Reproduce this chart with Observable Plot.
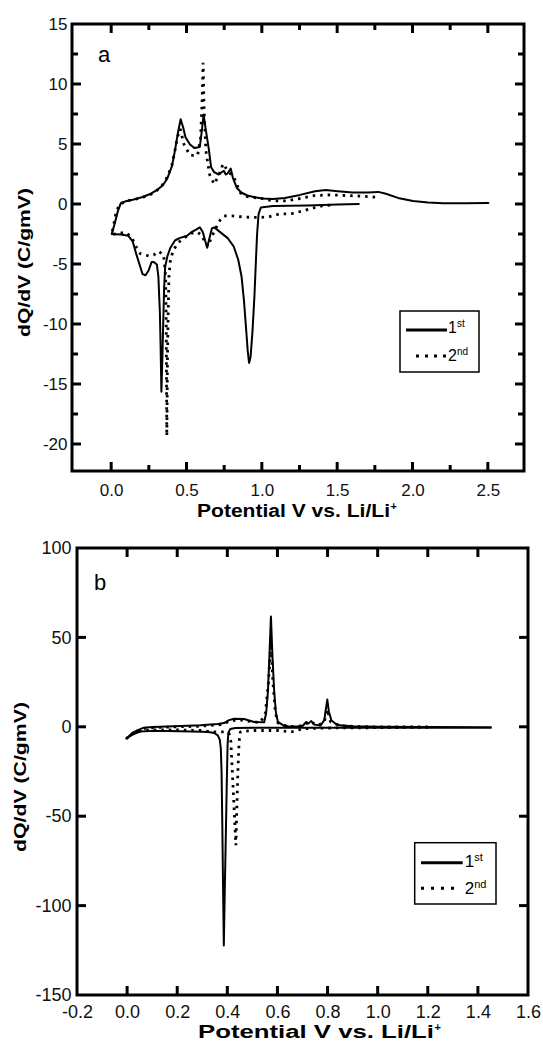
<!DOCTYPE html>
<html><head><meta charset="utf-8">
<script src="https://cdn.jsdelivr.net/npm/d3@7"></script>
<script src="https://cdn.jsdelivr.net/npm/@observablehq/plot@0.6"></script>
<style>
html,body{margin:0;padding:0;background:#fff;}
.panel{position:relative;width:543px;}
.panel svg{display:block;}
.panel svg.overlay{position:absolute;left:0;top:0;pointer-events:none;overflow:visible;}
</style></head>
<body><div id="chart"></div>
<script>
// ---------- Panel a data: [potential V, dQ/dV] ----------
const aCycle1 = [
  [1.64,0.05],[1.5,0.0],[1.3,-0.08],[1.07,-0.12],[0.99,-0.25],[0.975,-0.8],[0.965,-2.5],[0.958,-4.5],
  [0.948,-7.5],[0.935,-10.5],[0.922,-12.7],[0.912,-13.2],[0.903,-12.2],[0.893,-10.5],[0.878,-8],
  [0.862,-6],[0.84,-4.6],[0.81,-3.5],[0.77,-2.8],[0.72,-2.3],[0.68,-1.9],[0.665,-2.0],[0.645,-3.0],
  [0.634,-3.6],[0.62,-3.0],[0.605,-2.3],[0.585,-1.9],[0.56,-2.1],[0.53,-2.3],[0.5,-2.6],[0.45,-2.8],
  [0.42,-3.0],[0.39,-3.6],[0.37,-4.3],[0.355,-5.2],[0.348,-7],[0.342,-10],[0.336,-13],[0.33,-15.6],
  [0.325,-12],[0.32,-9],[0.31,-6],[0.3,-5.0],[0.28,-4.8],[0.265,-4.8],[0.245,-5.5],[0.225,-5.9],
  [0.205,-5.8],[0.185,-5.0],[0.165,-4.2],[0.14,-3.1],[0.11,-2.6],[0.06,-2.5],[0.0,-2.45],
  [0.02,-1.6],[0.04,-0.6],[0.06,0.1],[0.1,0.3],[0.14,0.4],[0.2,0.6],[0.26,0.9],[0.3,1.2],[0.34,1.6],
  [0.37,2.2],[0.4,3.2],[0.42,4.5],[0.44,6.0],[0.458,7.1],[0.475,6.4],[0.49,5.6],[0.52,5.0],[0.55,4.7],
  [0.585,4.8],[0.597,6.0],[0.61,7.5],[0.625,6.2],[0.645,4.6],[0.66,3.1],[0.68,2.7],[0.71,2.5],
  [0.73,2.7],[0.745,2.8],[0.757,2.5],[0.77,2.6],[0.79,3.0],[0.805,2.2],[0.83,1.4],[0.86,1.0],
  [0.9,0.75],[0.95,0.6],[1.0,0.5],[1.07,0.45],[1.15,0.55],[1.25,0.8],[1.35,1.1],[1.42,1.2],
  [1.5,1.1],[1.6,1.0],[1.7,1.0],[1.77,1.05],[1.82,0.9],[1.9,0.55],[2.0,0.3],[2.1,0.17],[2.2,0.1],
  [2.35,0.1],[2.5,0.12]
];
const aCycle2 = [
  [1.45,-0.05],[1.4,-0.1],[1.35,-0.25],[1.28,-0.5],[1.2,-0.75],[1.11,-0.8],[1.04,-1.05],[0.95,-1.08],
  [0.89,-1.05],[0.84,-1.0],[0.8,-0.95],[0.745,-0.95],[0.72,-1.3],[0.69,-2.0],[0.66,-2.8],[0.64,-3.5],
  [0.62,-3.2],[0.6,-2.6],[0.57,-2.3],[0.53,-2.4],[0.48,-2.8],[0.44,-3.2],[0.41,-3.8],[0.39,-4.6],
  [0.38,-6],[0.375,-9],[0.37,-13],[0.368,-16.5],[0.366,-19.3],[0.364,-15],[0.362,-10],[0.358,-6],
  [0.345,-4.2],[0.31,-3.9],[0.28,-4.2],[0.25,-4.3],[0.22,-4.2],[0.19,-4.1],[0.165,-3.6],[0.148,-3.1],
  [0.12,-2.6],[0.09,-2.3],[0.05,-2.4],[0.0,-2.5],
  [0.015,-1.6],[0.027,-0.8],[0.05,0.0],[0.1,0.3],[0.16,0.45],[0.22,0.65],[0.28,0.95],[0.33,1.5],
  [0.37,2.3],[0.4,3.3],[0.42,4.5],[0.436,5.6],[0.455,6.3],[0.48,5.0],[0.52,4.1],[0.57,4.1],
  [0.59,5.5],[0.6,8.5],[0.607,11.8],[0.613,8],[0.625,4.5],[0.65,2.5],[0.68,1.7],[0.71,2.4],
  [0.74,3.4],[0.77,2.8],[0.81,2.3],[0.855,0.95],[0.9,0.65],[1.0,0.5],[1.07,0.3],[1.16,0.3],
  [1.25,0.5],[1.35,0.75],[1.45,0.8],[1.55,0.75],[1.65,0.7],[1.76,0.6]
];
// ---------- Panel b data ----------
const bCycle1 = [
  [1.45,-0.2],[1.2,-0.2],[0.9,-0.3],[0.7,-0.3],[0.5,-0.3],[0.43,-0.4],[0.41,-1.0],[0.402,-3],
  [0.399,-10],[0.396,-30],[0.392,-60],[0.388,-90],[0.384,-122],[0.381,-90],[0.378,-55],[0.375,-25],
  [0.372,-12],[0.368,-7],[0.36,-4.5],[0.345,-3.2],[0.33,-2.8],[0.3,-2.5],[0.25,-2.3],[0.16,-2.0],
  [0.1,-2.0],[0.05,-2.4],[0.02,-4.0],[-0.005,-6.3],
  [0.02,-3.0],[0.05,-1.0],[0.065,-0.2],[0.1,0.2],[0.16,0.5],[0.29,1.1],[0.36,1.8],[0.385,2.4],
  [0.405,4.0],[0.425,4.8],[0.465,4.6],[0.505,3.0],[0.545,2.8],[0.553,8],[0.56,20],[0.566,40],
  [0.572,62],[0.578,40],[0.585,20],[0.592,8],[0.6,3.0],[0.62,1.2],[0.64,0.6],[0.68,0.5],[0.7,1.0],
  [0.713,3.0],[0.72,2.0],[0.733,3.5],[0.745,1.5],[0.77,1.0],[0.785,4],[0.79,9],[0.797,15.5],
  [0.803,9],[0.813,3.9],[0.83,2.0],[0.847,1.1],[0.9,0.6],[1.0,0.3],[1.2,0.1],[1.45,0.0]
];
const bCycle2 = [
  [1.2,0.0],[1.0,-0.2],[0.8,-0.4],[0.7,-0.8],[0.655,-2.5],[0.6,-1.8],[0.5,-1.8],[0.45,-2.5],
  [0.445,-8],[0.44,-25],[0.436,-45],[0.432,-66],[0.425,-45],[0.418,-25],[0.412,-8],[0.405,-3.5],
  [0.39,-2.5],[0.34,-2.6],[0.3,-1.8],[0.2,-1.5],[0.1,-1.5],[0.05,-2.0],[0.02,-3.5],[-0.005,-6.3],
  [0.03,-2.5],[0.07,-0.5],[0.15,0.1],[0.29,0.6],[0.37,1.5],[0.41,3.5],[0.44,4.3],[0.48,3.5],
  [0.53,2.6],[0.55,8],[0.562,25],[0.572,47],[0.58,25],[0.59,8],[0.6,2.5],[0.64,0.3],[0.7,0.8],
  [0.715,2.5],[0.73,3.0],[0.76,1.0],[0.785,3],[0.797,10],[0.81,3],[0.85,0.8],[0.95,0.3],[1.2,0.2]
];
// ---------- ticks & labels ----------
const aXTicks = [0, 0.5, 1.0, 1.5, 2.0, 2.5];
const aXMinor = [0.25, 0.75, 1.25, 1.75, 2.25];
const aYTicks = [15, 10, 5, 0, -5, -10, -15, -20];
const aYMinor = [12.5, 7.5, 2.5, -2.5, -7.5, -12.5, -17.5];
const bXTicks = [-0.2, 0, 0.2, 0.4, 0.6, 0.8, 1.0, 1.2, 1.4, 1.6];
const bYTicks = [100, 50, 0, -50, -100, -150];
const xTitleMain = "Potential V vs. Li/Li";
const xTitleSup = "+";
const yTitle = "dQ/dV (C/gmV)";
const legendNames = [["1", "st"], ["2", "nd"]];
const panelLetters = ["a", "b"];

const FONT = "'Liberation Sans', Arial, Helvetica, sans-serif";

// Frame, inward ticks (from the plot's own scales), titles, letter and legend in an overlay SVG
function overlay(c, X, Y) {
  const w = c.width, h = c.height, L = c.L;
  const fx0 = c.ml, fx1 = w - c.mr, fy0 = c.mt, fy1 = h - c.mb;
  const svg = d3.create("svg").attr("class", "overlay").attr("width", w).attr("height", h)
    .attr("viewBox", `0 0 ${w} ${h}`);
  const tg = svg.append("g").attr("stroke", "#000").attr("stroke-width", 3).attr("fill", "none");
  const inside = (v, dom) => v > Math.min(...dom) + 1e-9 && v < Math.max(...dom) - 1e-9;
  const xt = (vals, len) => vals.filter(v => inside(v, c.xDomain)).forEach(v => {
    const px = X(v);
    tg.append("line").attr("x1", px).attr("x2", px).attr("y1", fy0).attr("y2", fy0 + len);
    tg.append("line").attr("x1", px).attr("x2", px).attr("y1", fy1 - len).attr("y2", fy1);
  });
  const yt = (vals, len) => vals.filter(v => inside(v, c.yDomain)).forEach(v => {
    const py = Y(v);
    tg.append("line").attr("y1", py).attr("y2", py).attr("x1", fx0).attr("x2", fx0 + len);
    tg.append("line").attr("y1", py).attr("y2", py).attr("x1", fx1 - len).attr("x2", fx1);
  });
  xt(c.xTicks, 9); xt(c.xMinor, 6); yt(c.yTicks, 9); yt(c.yMinor, 6);
  tg.append("rect").attr("x", fx0).attr("y", fy0).attr("width", fx1 - fx0).attr("height", fy1 - fy0);

  const g = svg.append("g").attr("font-family", FONT).attr("fill", "#000").attr("text-anchor", "start");
  g.append("text").attr("x", L.letter[0]).attr("y", L.letter[1]).attr("font-size", 22).text(L.letterText);
  g.append("text").attr("x", L.xt[0]).attr("y", L.xt[1]).attr("font-size", 18).attr("font-weight", "bold")
    .attr("textLength", L.xt[2]).attr("lengthAdjust", "spacingAndGlyphs").text(xTitleMain);
  g.append("text").attr("x", L.xt[0] + L.xt[2] + 0.5).attr("y", L.xt[1] - 7).attr("font-size", 11)
    .attr("font-weight", "bold").text(xTitleSup);
  g.append("text").attr("transform", `translate(${L.yt[0]},${L.yt[1]}) rotate(-90)`)
    .attr("text-anchor", "middle").attr("font-size", 17).attr("font-weight", "bold")
    .attr("textLength", L.yt[2]).attr("lengthAdjust", "spacingAndGlyphs").text(yTitle);
  const [bx, by, bw, bh] = L.box;
  g.append("rect").attr("x", bx).attr("y", by).attr("width", bw).attr("height", bh)
    .attr("fill", "none").attr("stroke", "#000").attr("stroke-width", 1.5);
  g.append("line").attr("x1", L.solid[0]).attr("x2", L.solid[1]).attr("y1", L.solid[2]).attr("y2", L.solid[2])
    .attr("stroke", "#000").attr("stroke-width", 3);
  g.append("line").attr("x1", L.dot[0]).attr("x2", L.dot[1]).attr("y1", L.dot[2]).attr("y2", L.dot[2])
    .attr("stroke", "#000").attr("stroke-width", 3).attr("stroke-dasharray", L.dash);
  legendNames.forEach((nm, i) => {
    const t = g.append("text").attr("x", L.lt[0]).attr("y", L.lt[1 + i]).attr("font-size", L.lfs);
    t.append("tspan").text(nm[0]);
    t.append("tspan").attr("dy", -6).attr("font-size", Math.round(L.lfs * 0.65)).text(nm[1]);
  });
  return svg.node();
}

function panel(c) {
  const plot = Plot.plot({
    width: c.width, height: c.height,
    marginTop: c.mt, marginBottom: c.mb, marginLeft: c.ml, marginRight: c.mr,
    style: {fontFamily: FONT, color: "#000", background: "#fff", overflow: "visible"},
    x: {domain: c.xDomain},
    y: {domain: c.yDomain},
    marks: [
      Plot.line(c.s1, {x: d => d[0], y: d => d[1], stroke: "#000", strokeWidth: 2}),
      Plot.line(c.s2, {x: d => d[0], y: d => d[1], stroke: "#000", strokeWidth: 2.8,
        strokeDasharray: "2.5,5", strokeLinecap: "butt", strokeLinejoin: "miter"}),
      Plot.axisX(c.xTicks, {tickSize: 0, tickPadding: c.xPad, tickFormat: d => d.toFixed(1),
        label: null, fontSize: c.tfs, fill: "#111"}),
      Plot.axisY(c.yTicks, {tickSize: 0, tickPadding: c.yPad, tickFormat: d => String(d),
        label: null, fontSize: c.tfs, fill: "#111"})
    ]
  });
  let X, Y;
  try {
    const sx = plot.scale("x"), sy = plot.scale("y");
    X = d3.scaleLinear(sx.domain, sx.range);
    Y = d3.scaleLinear(sy.domain, sy.range);
  } catch (e) {
    X = d3.scaleLinear(c.xDomain, [c.ml, c.width - c.mr]);
    Y = d3.scaleLinear(c.yDomain, [c.height - c.mb, c.mt]);
  }
  const wrap = document.createElement("div");
  wrap.className = "panel";
  wrap.style.height = c.height + "px";
  wrap.append(plot);
  wrap.append(overlay(c, X, Y));
  return wrap;
}

const chart = document.getElementById("chart");
chart.append(panel({
  width: 543, height: 528, mt: 24, mb: 57, ml: 72, mr: 19,
  xDomain: [-0.26, 2.74], yDomain: [-22.25, 15],
  xTicks: aXTicks, xMinor: aXMinor, yTicks: aYTicks, yMinor: aYMinor,
  s1: aCycle1, s2: aCycle2, xPad: 12, yPad: 5, tfs: 17,
  L: {letter: [98, 62], letterText: panelLetters[0], xt: [197, 517, 193], yt: [30, 262.5, 149],
      box: [400, 311, 79, 61], solid: [406, 447, 330], dot: [416, 447, 356], dash: "3,6",
      lt: [448, 333, 361], lfs: 16}
}));
chart.append(panel({
  width: 543, height: 522, mt: 20, mb: 55, ml: 77, mr: 15,
  xDomain: [-0.2, 1.6], yDomain: [-150, 100],
  xTicks: bXTicks, xMinor: [], yTicks: bYTicks, yMinor: [],
  s1: bCycle1, s2: bCycle2, xPad: 10, yPad: 6, tfs: 18,
  L: {letter: [94, 62], letterText: panelLetters[1], xt: [198, 510, 236], yt: [26, 249, 150],
      box: [414.7, 314.7, 81.3, 61.3], solid: [421, 462.7, 334.7], dot: [421, 461, 360.3], dash: "3,7",
      lt: [464.7, 339.3, 366], lfs: 17}
}));
</script>
</body></html>
